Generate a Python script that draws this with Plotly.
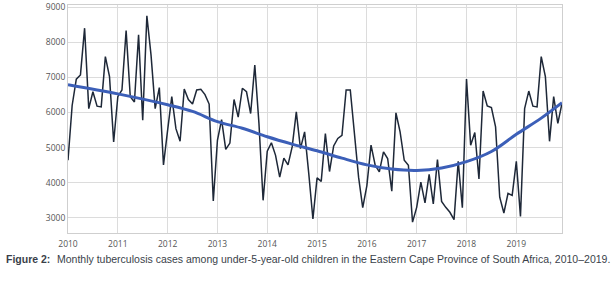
import plotly.graph_objects as go

years = list(range(2010, 2020))
cases_2010 = [4640, 6200, 6950, 7070, 8400, 6110, 6590, 6180, 6160, 7590, 7020, 5160]
cases_2011 = [6450, 6640, 8330, 6450, 6300, 8210, 5780, 8750, 7640, 6110, 6710, 4510]
cases_2012 = [5500, 6450, 5540, 5180, 6670, 6370, 6240, 6640, 6660, 6510, 6240, 3480]
cases_2013 = [5210, 5800, 4950, 5130, 6370, 5870, 6690, 6590, 5970, 7350, 5690, 3500]
cases_2014 = [4900, 5140, 4780, 4160, 4700, 4510, 5020, 6020, 4970, 5450, 4260, 2970]
cases_2015 = [4140, 4040, 5400, 4320, 5050, 5260, 5350, 6640, 6640, 5400, 4160, 3290]
cases_2016 = [3920, 5070, 4500, 4310, 4880, 4690, 3760, 5990, 5450, 4640, 4500, 2880]
cases_2017 = [3300, 4020, 3430, 4240, 3400, 4660, 3470, 3300, 3160, 2950, 4610, 3290]
cases_2018 = [6950, 5070, 5430, 4110, 6610, 6190, 6140, 5590, 3590, 3140, 3700, 3640]
cases_2019 = [4610, 3040, 6110, 6610, 6180, 6160, 7590, 7020, 5180, 6450, 5690, 6260]

trend_x = [2010, 2011, 2012, 2012.5, 2013, 2013.5, 2014, 2014.5, 2015, 2015.5, 2016,
           2016.5, 2017, 2017.5, 2018, 2018.5, 2019, 2019.5, 2019.917]
trend_y = [6790, 6530, 6220, 6030, 5740, 5550, 5310, 5100, 4910, 4700, 4510,
           4390, 4350, 4420, 4600, 4890, 5380, 5840, 6280]

y_ticks = [3000, 4000, 5000, 6000, 7000, 8000, 9000]
caption_label = "Figure 2:"
caption_text = "Monthly tuberculosis cases among under-5-year-old children in the Eastern Cape Province of South Africa, 2010\u20132019."

all_cases = (cases_2010 + cases_2011 + cases_2012 + cases_2013 + cases_2014 +
             cases_2015 + cases_2016 + cases_2017 + cases_2018 + cases_2019)
months_x = [y + m / 12 for y in years for m in range(12)]

fig = go.Figure()
fig.add_trace(go.Scatter(x=months_x, y=all_cases, mode="lines",
                         line=dict(color="#1e2838", width=1.5), showlegend=False))
fig.add_trace(go.Scatter(x=trend_x, y=trend_y, mode="lines",
                         line=dict(color="#3c5fb8", width=3, shape="spline"), showlegend=False))

cap_font = dict(family="Liberation Sans", size=10.5, color="#3a3f4a")
fig.update_layout(
    width=616, height=282,
    margin=dict(l=68, r=54, t=5, b=49, autoexpand=False),
    paper_bgcolor="white", plot_bgcolor="white",
    font=dict(family="Open Sans", size=9, color="#555"),
    xaxis=dict(range=[2010, 2019.917], tickvals=years, ticktext=[str(y) for y in years],
               showgrid=True, gridcolor="#dcdcdc", gridwidth=1,
               showline=True, linecolor="#cfcfcf", mirror=True, zeroline=False,
               ticks="", ticklabelstandoff=3, tickfont=dict(size=8.5, color="#555")),
    yaxis=dict(range=[2570, 9060], tickvals=y_ticks,
               showgrid=True, gridcolor="#dcdcdc", gridwidth=1,
               showline=True, linecolor="#cfcfcf", mirror=True, zeroline=False,
               ticks="", tickfont=dict(size=8.5, color="#555")),
    annotations=[
        dict(text="<b>" + caption_label + "</b>", xref="paper", yref="paper",
             x=-0.1295, y=-0.114, xanchor="left", yanchor="middle", showarrow=False,
             font=cap_font),
        dict(text=caption_text, xref="paper", yref="paper",
             x=-0.0263, y=-0.114, xanchor="left", yanchor="middle", showarrow=False,
             font=cap_font),
    ],
)

fig.write_html("out.html", config={"displayModeBar": False},
               post_script="document.body.style.margin='0';document.body.style.padding='0';")
